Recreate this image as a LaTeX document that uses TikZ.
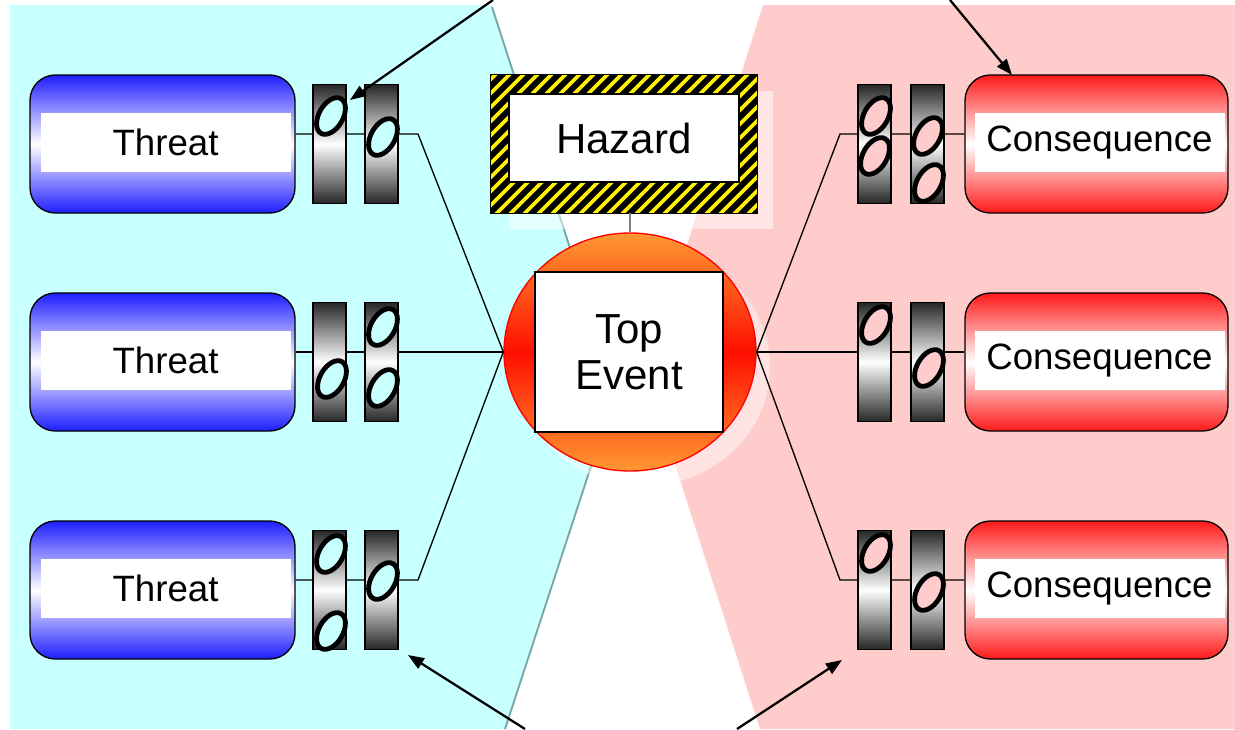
\documentclass[tikz,border=0pt]{standalone}
\usepackage{fontspec}
\setmainfont{Liberation Sans}
\usetikzlibrary{arrows.meta, positioning, shapes.geometric}

\definecolor{cyanbg}{RGB}{200,255,255}
\definecolor{pinkbg}{RGB}{255,204,204}
\definecolor{thrblue}{RGB}{30,30,255}
\definecolor{consred}{RGB}{255,25,25}
\definecolor{evorange}{RGB}{255,152,50}
\definecolor{evred}{RGB}{255,15,0}
\definecolor{edgegray}{RGB}{120,165,165}
\definecolor{stripe}{RGB}{255,240,0}

\newcommand\boxfont{\fontsize{27.5}{32}\selectfont}
\newcommand\bigfont{\fontsize{31.5}{34.5}\selectfont}

\begin{document}
\begin{tikzpicture}[x=0.75pt,y=0.75pt,yscale=-1,xscale=1,
  threatbox/.style={draw, line width=1pt, rounded corners=19pt, minimum width=198.75pt, minimum height=103.5pt, top color=thrblue, bottom color=thrblue, middle color=white},
  consbox/.style={draw, line width=1pt, rounded corners=19pt, minimum width=197.25pt, minimum height=103.5pt, top color=consred, bottom color=consred, middle color=white},
  band/.style={fill=white, inner sep=0pt, minimum width=187.5pt, minimum height=44.25pt, font=\boxfont},
  barrier/.style={draw, line width=0.8pt, minimum width=24.75pt, minimum height=89.25pt, top color=black!85, bottom color=black!85, middle color=white},
  hole/.style={draw, line width=3.6pt},
  link/.style={line width=1pt},
  pointer/.style={line width=1.7pt, -{Triangle[length=12pt,width=9pt]}}]
\useasboundingbox (0,0) rectangle (1235,729);

% background wedges
\path[fill=cyanbg] (10,5) -- (492,5) -- (616,390) -- (505,729) -- (10,729) -- cycle;
\path[fill=pinkbg] (763,5) -- (1235,5) -- (1235,729) -- (760,729) -- (646,374) -- cycle;
\draw[edgegray, line width=1.4pt] (492,7) -- (616,390) -- (505,729);

% shadows
\fill[white, opacity=0.5] (509,91) rectangle (773,229);
\fill[white, opacity=0.45] (644,367) ellipse [x radius=126, y radius=119];

% hazard
\node[fill=black, minimum width=199.5pt, minimum height=103.5pt] (haz) at (624,144) {};
\begin{scope}
  \clip (haz.south west) rectangle (haz.north east);
  \foreach \s in {0,14,...,434}
    \draw[stripe, line width=2.7pt] (350+\s,220) -- ++(150,-150);
\end{scope}
\draw[line width=1pt] (haz.south west) rectangle (haz.north east);
\node[draw, line width=1pt, fill=white, minimum width=172.5pt, minimum height=66pt, font=\bigfont] (hazin) at (624,138) {Hazard};

% top event
\node[ellipse, draw=red, line width=1pt, minimum width=189pt, minimum height=178.5pt, top color=evorange, bottom color=evorange, middle color=evred] (topev) at (630,352) {};
\node[draw, line width=1pt, fill=white, minimum width=141pt, minimum height=120pt, align=center, font=\bigfont] (tebox) at (629,352) {Top\\Event};
\draw[gray, line width=0.8pt] (topev.north |- haz.south) -- (topev.north);

% threats and consequences
\foreach \r/\y/\ly in {1/144/134, 2/362/352, 3/590/580} {
  \node[threatbox] (thr\r) at (162.5,\y) {};
  \node[band] at (165.5,\y-1.5) {Threat};
  \node[consbox] (con\r) at (1096.5,\y) {};
  \node[band] at (1099.5,\y-1.5) {Consequence};
  \coordinate (lt\r) at (418,\ly);
  \coordinate (rt\r) at (840,\ly);
  \draw[link] (thr\r.east |- lt\r) -- (lt\r) -- (topev.west);
  \draw[link] (topev.east) -- (rt\r) -- (rt\r -| con\r.west);
  \node[barrier] (bla\r) at (329.5,\y) {};
  \node[barrier] (blb\r) at (381.5,\y) {};
  \node[barrier] (bra\r) at (874.5,\y) {};
  \node[barrier] (brb\r) at (927.5,\y) {};
}

% holes in the barriers
\foreach \hx/\hy in {331/116, 383/137, 332/379, 383/327, 383/388, 331/554, 331/631, 383/581}
  \draw[hole, fill=cyanbg, shift={(\hx,\hy)}, rotate=30] (0,0) ellipse [x radius=12, y radius=20];
\foreach \hx/\hy in {876/116, 875/156, 928/136, 929/183, 876/325, 929/368, 876/553, 929/592}
  \draw[hole, fill=pinkbg, shift={(\hx,\hy)}, rotate=30] (0,0) ellipse [x radius=12, y radius=20];

% pointers
\coordinate (ptl) at (493,0);
\coordinate (ptr) at (950,0);
\coordinate (pbl) at (525,729);
\coordinate (pbr) at (737,729);
\coordinate (ttl) at (350,100);
\coordinate (ttr) at (1012,75);
\coordinate (tbl) at (408,655);
\coordinate (tbr) at (842,660);
\draw[pointer] (ptl) -- (ttl);
\draw[pointer] (ptr) -- (ttr);
\draw[pointer] (pbl) -- (tbl);
\draw[pointer] (pbr) -- (tbr);

\end{tikzpicture}
\end{document}
